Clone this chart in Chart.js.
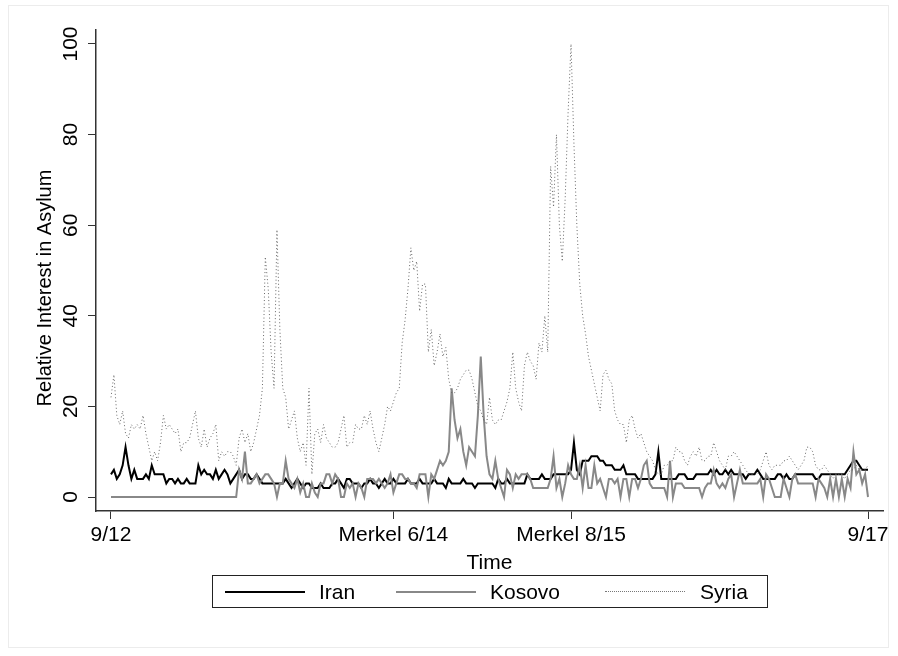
<!DOCTYPE html>
<html>
<head>
<meta charset="utf-8">
<script src="https://cdn.jsdelivr.net/npm/chart.js@4.4.1/dist/chart.umd.min.js"></script>
<style>
  body { margin: 0; background: #fff; }
  #wrap { position: relative; width: 898px; height: 656px; }
  #frame { position: absolute; left: 8px; top: 5px; width: 881px; height: 643px; border: 1px solid #ececec; box-sizing: border-box; }
  #legend { position: absolute; left: 212px; top: 575px; width: 556px; height: 33px; border: 1px solid #222; box-sizing: border-box;
            font-family: "Liberation Sans", Arial, sans-serif; font-size: 21px; color: #000; }
  #legend .sw { position: absolute; top: 15px; width: 80px; height: 0; }
  #legend .lab { position: absolute; top: 4px; }
</style>
</head>
<body>
<div id="wrap">
  <div id="frame"></div>
  <canvas id="asylumChart" width="898" height="656"></canvas>
  <div id="legend">
    <span class="sw" style="left:12px;border-top:2px solid #000;"></span><span class="lab" style="left:106px;">Iran</span>
    <span class="sw" style="left:183px;border-top:2px solid #888;"></span><span class="lab" style="left:277px;">Kosovo</span>
    <span class="sw" style="left:392px;border-top:1px dotted #777;"></span><span class="lab" style="left:487px;">Syria</span>
  </div>
</div>
<script>
// weekly Google Trends values, 9/2012 - 9/2017
const iran = [
    5,6,4,5,7,11,7,4,6,4,  4,4,5,4,7,5,5,5,5,3,  4,4,3,4,3,3,4,3,3,3,  7,5,6,5,5,4,6,4,5,6,
    5,3,4,5,6,4,5,5,4,4,  5,4,3,3,3,3,3,3,3,3,  4,3,2,3,4,3,2,3,3,2,  2,2,3,2,2,2,3,3,4,3,
    2,4,4,3,3,3,2,3,3,4,  3,3,2,3,4,3,3,4,3,3,  3,3,4,3,3,3,4,3,3,3,  3,4,3,3,3,2,4,3,3,3,
    3,4,3,3,3,2,3,3,3,3,  3,3,2,4,3,3,4,3,3,3,  3,3,3,5,4,4,4,4,5,4,  4,4,5,5,5,5,5,5,6,12,
    6,5,8,8,8,9,9,9,8,8,  7,7,7,6,6,6,7,5,5,5,  5,4,4,4,4,4,4,5,10,4,  4,4,4,4,4,5,5,5,4,4,
    4,5,5,5,5,5,6,5,6,5,  5,6,5,6,5,5,5,5,4,5,  5,5,6,5,4,4,4,4,4,5,  5,4,5,4,4,5,5,5,5,5,
    5,5,4,4,5,5,5,5,5,5,  5,5,5,6,7,8,8,7,6,6,6
];
const kosovo = [
    0,0,0,0,0,0,0,0,0,0,  0,0,0,0,0,0,0,0,0,0,  0,0,0,0,0,0,0,0,0,0,  0,0,0,0,0,0,0,0,0,0,
    0,0,0,0,6,4,10,3,3,4,  5,3,4,5,5,4,3,0,3,3,  8,4,3,2,4,1,3,0,0,3,  1,0,3,3,5,5,3,5,4,0,
    0,3,2,3,0,3,2,0,4,4,  4,3,4,3,2,3,5,1,3,5,  5,4,4,3,3,2,5,5,5,0,  5,4,6,8,7,8,10,24,17,13,
    15,10,7,11,10,9,18,31,18,9,  5,4,8,4,2,0,6,5,2,5,  4,5,5,5,4,2,2,2,2,2,  2,4,9,2,4,0,3,7,5,4,
    4,7,2,7,2,2,7,3,4,2,  0,4,4,3,4,0,4,4,0,4,  4,2,4,7,8,3,2,2,2,2,  2,0,8,0,3,3,3,2,2,2,
    2,2,2,0,2,3,3,6,3,2,  3,2,4,5,0,3,6,3,3,3,  3,3,3,4,0,5,4,2,0,0,  0,4,2,0,4,5,3,3,3,3,
    3,3,0,4,3,2,0,4,0,4,  0,4,0,4,2,10,5,6,3,5,0
];
const syria = [
    22,27,18,16,19,14,13,16,15,16,  15,18,14,11,8,10,8,12,18,15,  16,15,14,15,10,12,12,13,16,19,  13,11,15,11,13,14,16,8,10,9,
    10,10,9,7,13,15,12,14,10,12,  15,18,24,53,46,32,24,59,37,24,  22,15,17,19,13,10,12,7,24,5,  14,15,12,16,13,12,11,11,12,15,
    18,11,12,12,16,15,15,18,16,19,  15,12,10,13,16,20,19,21,23,24,  34,39,46,55,50,52,41,47,47,32,  37,29,32,36,31,33,26,23,23,24,
    26,27,28,28,26,23,20,19,17,16,  22,17,16,17,17,19,21,24,32,24,  21,19,29,32,30,29,26,34,32,40,  32,73,64,80,60,52,66,85,100,78,
    60,47,40,36,31,28,25,22,19,27,  28,26,25,19,17,16,16,12,17,18,  15,13,14,12,10,9,8,6,5,5,  7,7,8,8,11,10,10,8,7,9,
    10,9,11,8,8,9,9,12,10,8,  7,6,9,9,10,9,8,7,6,5,  5,5,5,6,8,10,7,6,7,7,  7,8,8,9,8,7,6,7,8,11,
    11,10,7,6,6,7,6,5,4,5,  5,5,4,5,6,6,7,6,6,6,7
];

const xTickWeeks = [0, 97, 158, 260];
const xTickLabels = ['9/12', 'Merkel 6/14', 'Merkel 8/15', '9/17'];
const yTicks = [0, 20, 40, 60, 80, 100];
const yTitle = 'Relative Interest in Asylum';

const weeks = iran.map((_, i) => i);
const FONT = '"Liberation Sans", Arial, Helvetica, sans-serif';
const FONT_SIZE = 21;

// stata draws the y tick labels and title turned on their side
const yLabelPlugin = {
    id: 'yLabels',
    afterDraw(chart) {
        const ctx = chart.ctx;
        const y = chart.scales.y;
        ctx.save();
        ctx.fillStyle = '#000';
        ctx.textAlign = 'center';
        ctx.textBaseline = 'middle';
        ctx.font = FONT_SIZE + 'px ' + FONT;
        yTicks.forEach(v => {
            ctx.save();
            ctx.translate(y.right - 25, y.getPixelForValue(v));
            ctx.rotate(-Math.PI / 2);
            ctx.fillText(String(v), 0, 0);
            ctx.restore();
        });
        ctx.font = '20px ' + FONT;
        ctx.translate(45, 288);
        ctx.rotate(-Math.PI / 2);
        ctx.fillText(yTitle, 0, 0);
        ctx.restore();
    }
};

new Chart(document.getElementById('asylumChart'), {
    type: 'line',
    data: {
        labels: weeks,
        datasets: [
            { label: 'Iran', data: iran, borderColor: '#000', borderWidth: 2, order: 3 },
            { label: 'Kosovo', data: kosovo, borderColor: '#888', borderWidth: 2, order: 2 },
            { label: 'Syria', data: syria, borderColor: '#666', borderWidth: 1, borderDash: [1, 2.5], order: 1 }
        ]
    },
    options: {
        responsive: false,
        animation: false,
        events: [],
        layout: { padding: { left: 0, right: 15, top: 30, bottom: 0 } },
        elements: { point: { radius: 0 }, line: { tension: 0 } },
        plugins: { legend: { display: false }, tooltip: { enabled: false } },
        scales: {
            x: {
                type: 'linear',
                min: -5.15,
                max: 265.15,
                afterBuildTicks: s => { s.ticks = xTickWeeks.map(v => ({ value: v })); },
                afterFit: s => { s.height = 145; },
                ticks: {
                    autoSkip: false,
                    maxRotation: 0,
                    padding: 4,
                    color: '#000',
                    font: { family: FONT, size: FONT_SIZE },
                    callback: (v, i) => xTickLabels[i]
                },
                grid: { drawOnChartArea: false, tickLength: 8, color: '#333', lineWidth: 1 },
                border: { color: '#333', width: 1.5 },
                title: { display: true, text: 'Time', color: '#000', font: { family: FONT, size: FONT_SIZE }, padding: { top: 0, bottom: 80 } }
            },
            y: {
                min: -3.09,
                max: 103.09,
                afterBuildTicks: s => { s.ticks = yTicks.map(v => ({ value: v })); },
                afterFit: s => { s.width = 96; },
                ticks: { display: false },
                grid: { drawOnChartArea: false, tickLength: 8, color: '#333', lineWidth: 1 },
                border: { color: '#333', width: 1.5 }
            }
        }
    },
    plugins: [yLabelPlugin]
});
</script>
</body>
</html>
